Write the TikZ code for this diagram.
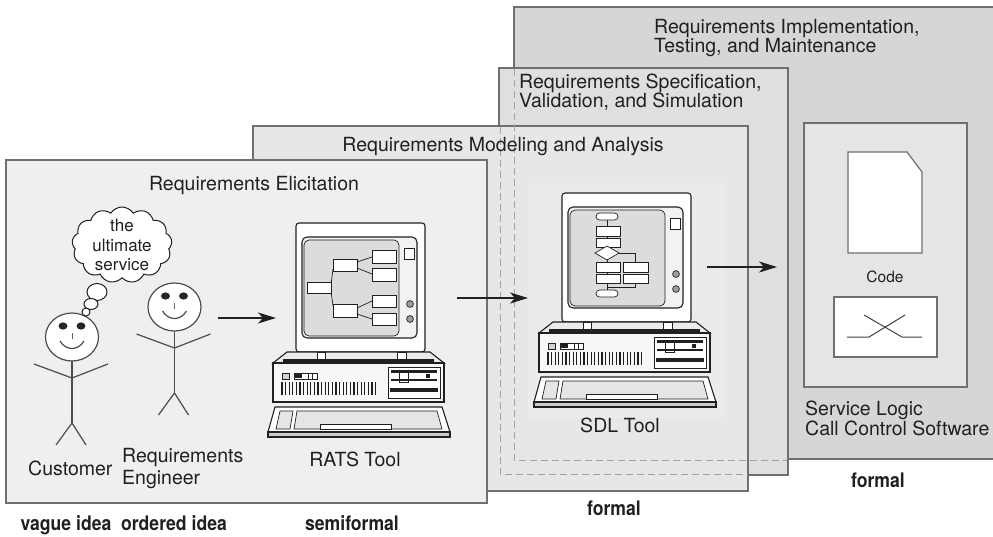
\documentclass[tikz,border=0pt]{standalone}
\usepackage{fontspec}
\setmainfont{TeX Gyre Heros}
\newfontfamily\phasefont{TeX Gyre Heros}[FakeStretch=0.88]
\usetikzlibrary{shapes.symbols,arrows.meta}

\definecolor{stageA}{HTML}{EEEFEF}
\definecolor{stageB}{HTML}{E6E7E8}
\definecolor{stageC}{HTML}{DEDFE1}
\definecolor{stageD}{HTML}{D5D6D8}
\definecolor{logicbox}{HTML}{E4E5E7}
\definecolor{frameline}{HTML}{707070}
\definecolor{hiddenedge}{HTML}{A3A3A3}
\definecolor{screengray}{HTML}{DCDCDC}
\definecolor{ink}{HTML}{231F20}
\definecolor{pcback}{HTML}{EBEBEB}

\newcommand\labelsize{\fontsize{19.5}{19.5}\selectfont}
\newcommand\cloudsize{\fontsize{17}{19.5}\selectfont}
\newcommand\codesize{\fontsize{15.5}{17}\selectfont}
\newcommand\phasesize{\phasefont\fontsize{20}{20}\selectfont\bfseries}

\tikzset{
  stagebox/.style={draw=frameline, line width=1.5},
  hiddenline/.style={draw=hiddenedge, line width=1, dash pattern=on 7pt off 4pt},
  lbl/.style={inner sep=0, text=ink, font=\labelsize},
  phase/.style={inner sep=0, text=ink, font=\phasesize},
  pcline/.style={draw=ink, line width=1.1},
  pcthin/.style={draw=ink, line width=0.7},
  figline/.style={draw=black!70, line width=1.2},
  flow/.style={draw=ink, line width=1.5, -{Stealth[length=18pt, width=11pt, inset=5pt]}},
}

% stick figure, origin at the centre of the head
\newcommand\stickman[1]{%
  \begin{scope}[shift={#1}]
    \draw[figline, fill=white] (0,0) ellipse [x radius=26.5, y radius=24];
    \fill[black!85] (-9,-11) ellipse [x radius=4.5, y radius=3.6]
                    (9,-11) ellipse [x radius=4.5, y radius=3.6];
    \draw[draw=black!60, line width=0.8] (0,-4) -- (0,2);
    \draw[figline] (-12,4) .. controls (-6,14) and (6,14) .. (12,4);
    \draw[figline] (0,24) -- (0,86);
    \draw[figline] (-38,27) -- (0,41) -- (36,27);
    \draw[figline] (-16,108) -- (0,86) -- (14,108);
  \end{scope}}

% desktop computer, origin at the top left corner of the monitor
\newcommand\deskunit[2]{%
  \begin{scope}[shift={#1}]
    % monitor
    \draw[pcline, fill=white, rounded corners=3] (0,0) rectangle (129,129);
    \draw[pcline, fill=white!95!black, rounded corners=5] (6,14) rectangle (121,115);
    \draw[pcthin, fill=screengray, rounded corners=5] (8,17) rectangle (103,113);
    \draw[pcthin, fill=white] (108,25) rectangle (118,36);
    \draw[pcthin, fill=gray!75] (114,81) circle (3.4) (114,96) circle (3.4);
    #2
    % top of the case
    \draw[pcline, fill=white!92!black] (-9,129) -- (134,129) -- (148,140) -- (-23,140) -- cycle;
    \fill[ink] (-13,135.5) rectangle (138,138.5);
    \draw[pcthin, fill=white] (21,129) rectangle (29,136) (101,129) rectangle (110,136);
    % front of the case
    \draw[pcline, fill=white!97!black] (-23,140) rectangle (148,179);
    \draw[pcthin, fill=gray!35] (-14,150) rectangle (-7,156);
    \draw[pcthin, fill=white] (-2,150) rectangle (21,156);
    \fill[ink] (-1,151) rectangle (6,155);
    \draw[pcthin] (12,150) -- (12,156) (16,150) -- (16,156);
    \foreach \k in {0,...,26} \draw[ink, line width=1.1] (-14+\k*3.6,159) -- (-14+\k*3.6,172);
    % drive bay
    \draw[pcthin, fill=white] (92,144) rectangle (144,175);
    \fill[ink] (95,147) rectangle (141,149.5);
    \draw[pcthin, fill=white] (103,149.5) rectangle (112,159);
    \fill[ink] (95,156) rectangle (141,158);
    \fill[ink] (130,151) rectangle (134,155);
    \fill[ink] (94,165) rectangle (142,169);
    % keyboard
    \draw[pcline, fill=white] (-21,184) -- (146,184) -- (154,209) -- (-28,209) -- cycle;
    \draw[pcline, fill=gray!40] (-28,209) rectangle (154,214);
    \draw[pcthin, fill=white!90!black] (-16,188) -- (-3,188) -- (-6,206) -- (-20,206) -- cycle;
    \draw[pcthin, fill=white!90!black] (1,188) -- (141,188) -- (146,206) -- (-2,206) -- cycle;
    \draw[pcthin, fill=white] (24,201) rectangle (95,206);
  \end{scope}}

\begin{document}
\begin{tikzpicture}[x=1pt, y=-1pt]
  \useasboundingbox (0,0) rectangle (993,536);
  \fill[white] (0,0) rectangle (993,536);

  % four overlapping stages, back to front
  \path[stagebox, fill=stageD] (514,7) rectangle (1000,459);
  \path[stagebox, fill=stageC] (499,68) rectangle (788,475);
  \path[stagebox, fill=stageB] (253,126) rectangle (748,491);
  \path[stagebox, fill=stageA] (6,160) rectangle (487,503);

  % outlines of the stages that lie behind
  \draw[hiddenline] (514,69) -- (514,460) -- (787,460);
  \draw[hiddenline] (500,127) -- (500,474) -- (747,474);

  % stage titles
  \node[lbl, anchor=north west, align=left] (implTitle) at (654,18.7)
    {Requirements Implementation,\\Testing, and Maintenance};
  \node[lbl, anchor=north west, align=left] (specTitle) at (519,73.7)
    {Requirements Specification,\\Validation, and Simulation};
  \node[lbl, anchor=base] (modelTitle) at (503,151) {Requirements Modeling and Analysis};
  \node[lbl, anchor=base] (elicTitle) at (254,190) {Requirements Elicitation};

  % stakeholders
  \stickman{(72,337)}
  \stickman{(174.5,307)}
  \node[cloud, cloud puffs=13, cloud puff arc=115, draw=ink, line width=1, fill=white,
        minimum width=100, minimum height=76, inner sep=0] (thought) at (122,245) {};
  \node[inner sep=0, align=center, text=ink, font=\cloudsize] (thoughtText) at (122,245)
    {the\\ultimate\\service};
  \draw[ink, line width=1, fill=white] (97,292) ellipse [x radius=10, y radius=8.5];
  \draw[ink, line width=1, fill=white] (91,304) ellipse [x radius=7, y radius=5.5];
  \draw[ink, line width=1, fill=white] (86,312) circle (4);
  \node[lbl, anchor=base west] (customer) at (28,475) {Customer};
  \node[lbl, anchor=north west, align=left, font=\fontsize{19.5}{22}\selectfont] (engineer)
    at (122,447.7) {Requirements\\Engineer};

  % tools
  \deskunit{(296,223)}{%
    \begin{scope}[pcthin]
      \draw (35,62) -- (37,46) (35,68) -- (37,83);
      \draw (61,39) -- (76,34) (61,45) -- (76,51) (61,85) -- (76,78) (61,91) -- (76,96);
      \draw[fill=white] (11,59) rectangle (35,70);
      \draw[fill=white] (37,36) rectangle (61,48) (37,81) rectangle (61,94);
      \draw[fill=white] (76,27) rectangle (100,40) (76,45) rectangle (100,58)
                        (76,72) rectangle (100,84) (76,90) rectangle (100,102);
    \end{scope}}
  \node[lbl, anchor=base] (ratsLabel) at (355,466) {RATS Tool};

  \fill[pcback] (528,183) rectangle (725,418);
  \deskunit{(562,193)}{%
    \begin{scope}[pcthin]
      \draw (45,27) -- (45,97);
      \draw (57,60) -- (73,60) -- (73,69) (73,90) -- (73,94) -- (45,94);
      \draw[fill=white, rounded corners=3.5] (34,20) rectangle (56,27);
      \draw[fill=white] (34,33) rectangle (58,43) (34,45) rectangle (58,54);
      \draw[fill=white] (33,60) -- (45,53) -- (57,60) -- (45,67) -- cycle;
      \draw[fill=white] (34,69) rectangle (58,79) (34,81) rectangle (58,90);
      \draw[fill=white] (61,69) rectangle (86,79) (61,81) rectangle (86,90);
      \draw[fill=white, rounded corners=3.5] (34,97) rectangle (56,104);
    \end{scope}}
  \node[lbl, anchor=base] (sdlLabel) at (620,432) {SDL Tool};

  % implementation products
  \draw[draw=frameline, line width=1.2, fill=logicbox] (804,123) rectangle (967,387);
  \draw[draw=frameline, line width=1.2, fill=white]
    (848,152) -- (907,152) -- (922,172) -- (922,253) -- (848,253) -- cycle;
  \node[inner sep=0, anchor=base, text=ink, font=\codesize] (codeLabel) at (885,282) {Code};
  \draw[draw=frameline, line width=1.2, fill=white] (834,297) rectangle (937,357);
  \draw[draw=black!75, line width=1] (847,337) -- (869,337) -- (905,315);
  \draw[draw=black!75, line width=1] (864,315) -- (902,337) -- (922,337);
  \node[lbl, anchor=north west, align=left, font=\fontsize{19.5}{18.5}\selectfont] (logicLabel)
    at (805,400.7) {Service Logic\\Call Control Software};

  % hand-over arrows
  \coordinate (fromEngineer) at (218,318);
  \coordinate (toRats) at (276,318);
  \coordinate (fromRats) at (457,298);
  \coordinate (toSdl) at (528,298);
  \coordinate (fromSdl) at (707,267);
  \coordinate (toCode) at (777,267);
  \draw[flow] (fromEngineer) -- (toRats);
  \draw[flow] (fromRats) -- (toSdl);
  \draw[flow] (fromSdl) -- (toCode);

  % degree of formality
  \node[phase, anchor=base] (vague) at (66,530) {vague idea};
  \node[phase, anchor=base] (ordered) at (174,530) {ordered idea};
  \node[phase, anchor=base] (semiformal) at (352,530) {semiformal};
  \node[phase, anchor=base] (formalSpec) at (614,515) {formal};
  \node[phase, anchor=base] (formalImpl) at (878,487) {formal};
\end{tikzpicture}
\end{document}
